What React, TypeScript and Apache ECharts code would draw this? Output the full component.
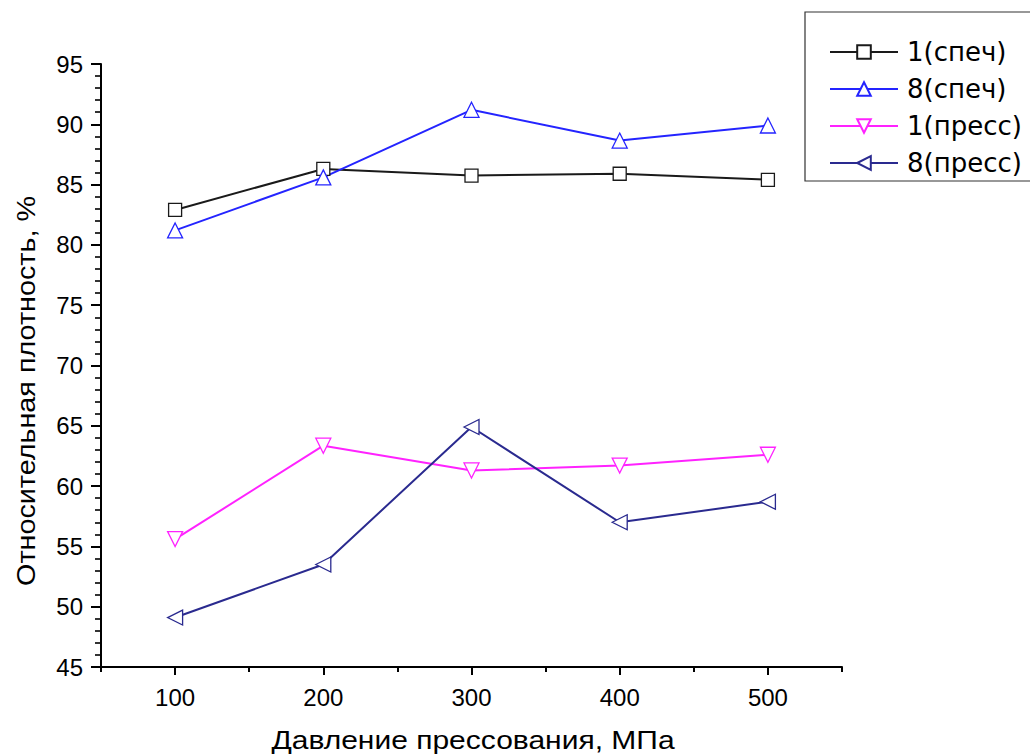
import React, { useEffect, useRef } from "react";
import * as echarts from "echarts";

const pressures = [100, 200, 300, 400, 500];
const sint1 = [82.9, 86.3, 85.75, 85.9, 85.4];
const sint8 = [81.2, 85.6, 91.2, 88.65, 89.9];
const press1 = [55.6, 63.35, 61.3, 61.7, 62.6];
const press8 = [49.1, 53.5, 64.9, 57.0, 58.7];
const seriesNames = ["1(спеч)", "8(спеч)", "1(пресс)", "8(пресс)"];
const xMajorTicks = [100, 200, 300, 400, 500];
const xMinorTicks = [50, 150, 250, 350, 450, 550];

const FONT = "'Liberation Sans', Arial, sans-serif";
const LEGEND_FONT = "'DejaVu Sans', 'Liberation Sans', sans-serif";

const SYM_UP = "path://M5,0 L10,10 L0,10 Z";
const SYM_DOWN = "path://M0,0 L10,0 L5,10 Z";
const SYM_LEFT = "path://M0,5 L10,0 L10,10 Z";

function pairs(vals: number[]) {
  return pressures.map((p, i) => [p, vals[i]]);
}

export default function App() {
  const ref = useRef<HTMLDivElement>(null);
  useEffect(() => {
    if (!ref.current) return;
    const chart = echarts.init(ref.current, undefined, { renderer: "svg" });
    const mk = (name: string, vals: number[], color: string, symbol: string, size: number) => ({
      type: "line",
      name,
      data: pairs(vals),
      xAxisIndex: 0,
      yAxisIndex: 0,
      color,
      symbol,
      symbolSize: size,
      showAllSymbol: true,
      lineStyle: { color, width: 2 },
      itemStyle: { color: "#fff", borderColor: color, borderWidth: 1.3 },
      emphasis: { disabled: true },
      z: 3,
    });
    chart.setOption({
      animation: false,
      backgroundColor: "#fff",
      textStyle: { fontFamily: FONT },
      grid: { left: 101, top: 64, width: 741, height: 603 },
      xAxis: [
        {
          type: "value",
          min: 50,
          max: 550,
          interval: 50,
          position: "bottom",
          axisLine: { show: true, onZero: false, lineStyle: { color: "#000", width: 2 } },
          axisTick: { show: true, customValues: xMajorTicks, length: 8, lineStyle: { color: "#000", width: 2 } },
          axisLabel: {
            show: true,
            customValues: xMajorTicks,
            margin: 18,
            fontSize: 24,
            color: "#000",
            fontFamily: FONT,
          },
          splitLine: { show: false },
        },
        {
          type: "value",
          min: 50,
          max: 550,
          interval: 50,
          position: "bottom",
          gridIndex: 0,
          axisLine: { show: false, onZero: false },
          axisTick: { show: true, customValues: xMinorTicks, length: 5, lineStyle: { color: "#000", width: 2 } },
          axisLabel: { show: false },
          splitLine: { show: false },
        },
      ],
      yAxis: {
        type: "value",
        min: 45,
        max: 95,
        interval: 5,
        axisLine: { show: true, onZero: false, lineStyle: { color: "#000", width: 2 } },
        axisTick: { show: true, length: 10, lineStyle: { color: "#000", width: 2 } },
        minorTick: { show: true, splitNumber: 5, length: 6, lineStyle: { color: "#000", width: 1.6 } },
        axisLabel: { margin: 18, fontSize: 24, color: "#000", fontFamily: FONT },
        splitLine: { show: false },
      },
      legend: {
        orient: "vertical",
        left: 829,
        top: 39,
        padding: 0,
        itemWidth: 68,
        itemHeight: 17,
        itemGap: 11,
        data: seriesNames,
        selectedMode: false,
        textStyle: { fontSize: 26, lineHeight: 26, color: "#000", fontFamily: LEGEND_FONT, padding: [0, 0, 0, 4] },
      },
      graphic: [
        {
          type: "rect",
          shape: { x: 805, y: 12, width: 240, height: 169 },
          style: { fill: "none", stroke: "#333", lineWidth: 1.2 },
          z: 1,
        },
        {
          type: "text",
          x: 27,
          y: 391,
          rotation: Math.PI / 2,
          scaleX: 1.15,
          style: {
            text: "Относительная плотность, %",
            fontSize: 25,
            fontFamily: FONT,
            fill: "#000",
            align: "center",
            verticalAlign: "middle",
          },
        },
        {
          type: "text",
          x: 473,
          y: 740,
          scaleX: 1.2,
          style: {
            text: "Давление прессования, МПа",
            fontSize: 25,
            fontFamily: FONT,
            fill: "#000",
            align: "center",
            verticalAlign: "middle",
          },
        },
      ],
      series: [
        mk(seriesNames[0], sint1, "#1a1a1a", "rect", 13),
        mk(seriesNames[1], sint8, "#2424ff", SYM_UP, 15),
        mk(seriesNames[2], press1, "#ff22ff", SYM_DOWN, 15),
        mk(seriesNames[3], press8, "#2a2a8f", SYM_LEFT, 15),
      ],
    });
    return () => chart.dispose();
  }, []);
  return (
    <div
      ref={ref}
      style={{ position: "fixed", left: 0, top: 0, width: 1030, height: 756, background: "#fff" }}
    />
  );
}
